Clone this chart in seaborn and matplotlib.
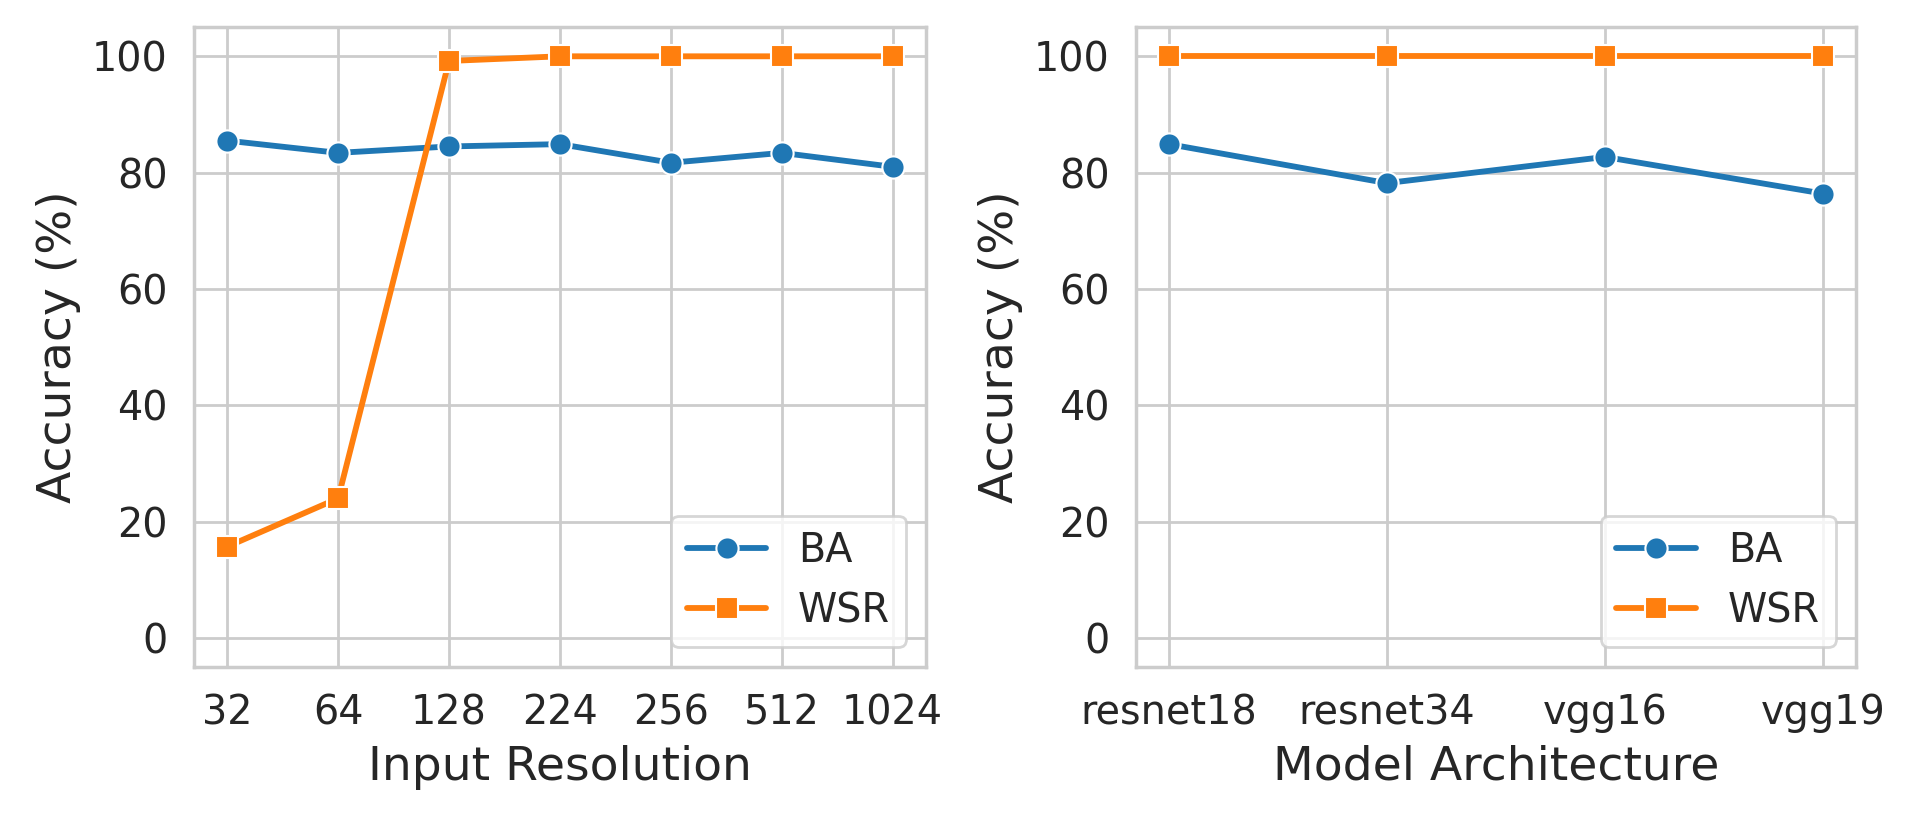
import matplotlib
matplotlib.use("Agg")
import matplotlib.pyplot as plt
import seaborn as sns
import pandas as pd

resolutions = ["32", "64", "128", "224", "256", "512", "1024"]
res_ba = [85.5, 83.4, 84.5, 84.9, 81.7, 83.4, 81.0]
res_wsr = [15.7, 24.0, 99.2, 100.0, 100.0, 100.0, 100.0]

architectures = ["resnet18", "resnet34", "vgg16", "vgg19"]
arch_ba = [84.9, 78.2, 82.7, 76.4]
arch_wsr = [100.0, 100.0, 100.0, 100.0]

series_names = ["BA", "WSR"]
yticks = [0, 20, 40, 60, 80, 100]

sns.set_theme(style="whitegrid", font_scale=1.3)
plt.rcParams['font.family'] = ['DejaVu Sans']

def long_df(xs, ba, wsr):
    rows = []
    for name, vals in zip(series_names, [ba, wsr]):
        for x, v in zip(xs, vals):
            rows.append({"x": x, "Accuracy": v, "Metric": name})
    return pd.DataFrame(rows)

df_res = long_df(resolutions, res_ba, res_wsr)
df_arch = long_df(architectures, arch_ba, arch_wsr)

fig = plt.figure(figsize=(9.555, 4.125), dpi=200)
ax1 = fig.add_axes([0.1015, 0.1915, 0.383, 0.7755])
ax2 = fig.add_axes([0.5945, 0.1915, 0.3765, 0.7755])

palette = ["#1f77b4", "#ff7f0e"]
for ax, df, xlabel in [(ax1, df_res, "Input Resolution"), (ax2, df_arch, "Model Architecture")]:
    sns.lineplot(data=df, x="x", y="Accuracy", hue="Metric", style="Metric",
                 markers=["o", "s"], dashes=False, palette=palette,
                 linewidth=2.1, markersize=8, sort=False, ax=ax)
    ax.set_ylim(-5, 105)
    ax.set_yticks(yticks)
    ax.set_xlabel(xlabel, fontsize=17)
    ax.set_ylabel("Accuracy (%)", fontsize=17)
    ax.legend(loc="lower right", title=None)

fig.savefig("out.png", dpi=200)
